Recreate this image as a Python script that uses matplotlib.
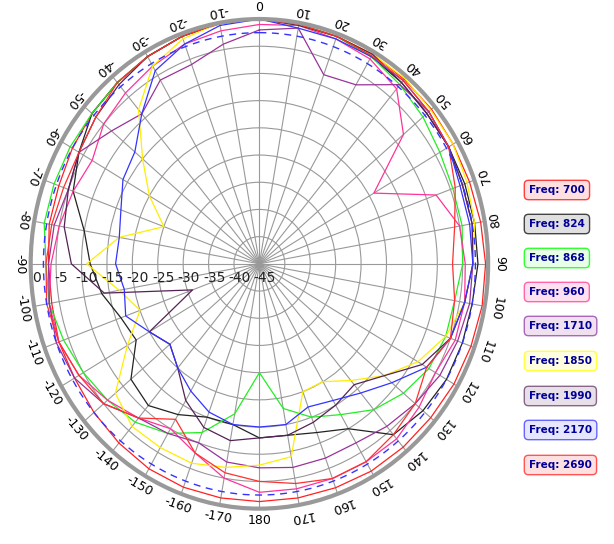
import numpy as np
import matplotlib
matplotlib.use("Agg")
import matplotlib.pyplot as plt
import matplotlib.transforms as mtrans

angles_deg = list(range(0, 360, 10))  # clockwise from top; 190..350 == -170..-10
freqs = ["700", "824", "868", "960", "1710", "1850", "1990", "2170", "2690"]
colors = ["#ff2020", "#222222", "#22ee22", "#ff3399", "#993399", "#ffee00", "#552255", "#3333ff", "#ff3030"]
faces = ["#ffe0e0", "#e0e0e0", "#e6ffe6", "#ffe0f0", "#f0e0f0", "#ffffe0", "#e8e0e8", "#e6e6ff", "#ffe0e0"]
edges = ["#ff4040", "#444444", "#33ff33", "#ff66aa", "#aa66bb", "#ffff44", "#886688", "#6666ff", "#ff5555"]

s700 = [0,-0.3,-0.5,-0.5,-0.7,-0.8,-1,-1,-0.8,-0.5,-0.5,-0.7,-0.8,-1,-1,-1,-1.2,-1.3,-1.3,
        -1.3,-1.3,-1.5,-2,-2.5,-3,-3,-3.5,-3.5,-3,-3,-2.5,-2,-1.5,-1,-0.5,-0.2]
s824 = [0,-0.3,-0.5,-1,-1.5,-2,-2,-2,-2,-2,-2.5,-2.5,-2.5,-3,-4,-10,-12,-13,-13,
        -15,-15,-13,-11,-12,-17,-16,-13.5,-11.7,-10,-6,-4,-2,-1.5,-1,-0.5,0]
s868 = [0,-0.3,-0.5,-1,-2,-3,-4,-4.5,-4.5,-5,-6,-6,-6.5,-8,-10,-13,-15,-18,-25,
        -17,-12,-9,-7,-6,-5,-4,-3,-3,-2,-2,-2,-2,-1.5,-1,-0.5,0]
s960 = [-1,-0.5,-1,-1.5,-3,-8,-19,-8,-5,-4.5,-4,-4,-5,-4,-3,-3,-3,-3,-3,
        -5,-8,-10,-8,-6,-4,-3,-3,-4,-5,-6,-7,-5,-4,-3,-2,-1.5]
s1710 = [-2,-1,-8,-7,-2,-1.5,-2,-2.5,-2.5,-3,-3,-3.5,-4,-5,-6,-7,-7,-7,-7.5,
         -8,-10,-9,-8,-5,-3,-2.5,-3,-3.5,-4,-5,-4,-7,-9,-6,-6,-4]
s1850 = [0,-0.5,-0.5,-0.5,-0.5,-1,-1,-1.5,-2,-3,-4,-6,-9,-13,-17,-20,-20,-9,-8,
         -7,-6,-6,-6,-8,-15,-20,-17,-11,-17,-25,-20,-15,-8,-3,-1,0]
s1990 = [0,-0.5,-0.5,-0.5,-1.5,-2,-2,-2.5,-2.5,-3,-4,-5,-8,-13,-16,-15,-14,-13,-13,
         -12,-13,-16,-20,-22,-20,-31,-14,-8,-6,-5,-4,-3,-2,-1,-0.5,0]
s2170 = [0,-1,-1,-1,-1,-1.5,-2,-3,-3,-3,-4,-5,-7,-11,-14,-16,-17,-15,-15,
         -15,-16,-18,-20,-22,-20,-17,-18,-16.7,-17,-16,-14,-13,-9,-4,-2,-0.5]
s2690 = [0,-0.3,-0.5,-0.8,-1,-1.5,-2,-4,-6,-7,-6,-5,-7,-5,-4,-3,-3,-4,-5,
         -6,-8,-12,-8,-5,-4,-3,-2.5,-3,-3.5,-4,-4,-3,-1.5,-1,-0.5,0]
series = [s700, s824, s868, s960, s1710, s1850, s1990, s2170, s2690]
ref_level = -2.5
r_ticks = [0, -5, -10, -15, -20, -25, -30, -35, -40, -45]

fig = plt.figure(figsize=(6.14, 5.44), dpi=100)
ax = fig.add_axes([0.05, 0.065, 0.745, 0.9], projection="polar")
ax.set_aspect("auto")
ax.set_theta_zero_location("N")
ax.set_theta_direction(-1)
ax.set_rlim(-45, 0)
ax.set_thetagrids(range(0, 360, 10), labels=[""] * 36)
ax.set_rgrids(r_ticks[1:], labels=[""] * 9)
ax.grid(color="#999999", lw=0.8)
ax.spines["polar"].set_color("#999999")
ax.spines["polar"].set_linewidth(3)

th = np.deg2rad(angles_deg + [360])
for s, c in zip(series, colors):
    ax.plot(th, s + [s[0]], color=c, lw=0.9)
full = np.linspace(0, 2 * np.pi, 361)
ax.plot(full, np.full_like(full, ref_level), color="#3333ff", lw=1, ls=(0, (5, 4)))

for a in range(0, 360, 10):
    lab = a if a <= 180 else a - 360
    if lab == 0 or lab == 180:
        rot = 0
    elif 0 < lab < 90:
        rot = 180 - lab
    elif lab >= 90:
        rot = -lab
    else:
        rot = 180 - lab
    ax.text(np.deg2rad(a), 2.2, str(lab), rotation=rot, ha="center", va="center",
            fontsize=9, rotation_mode="anchor")

off = mtrans.ScaledTranslation(4/72, -10/72, fig.dpi_scale_trans)
for v in r_ticks:
    ax.text(np.deg2rad(270), v, str(v), ha="center", va="center", fontsize=10,
            color="#222222", transform=ax.transData + off)

ys = [190, 224, 258, 292, 326, 361, 396, 430, 465]
for f, fc, ec, y in zip(freqs, faces, edges, ys):
    fig.text(529 / 614, 1 - y / 544, "Freq: " + f, fontsize=7.5, fontweight="bold",
             color="#000099", va="center", ha="left",
             bbox=dict(boxstyle="round,pad=0.45,rounding_size=0.4", fc=fc, ec=ec, lw=1))

fig.savefig("out.png", dpi=100)
